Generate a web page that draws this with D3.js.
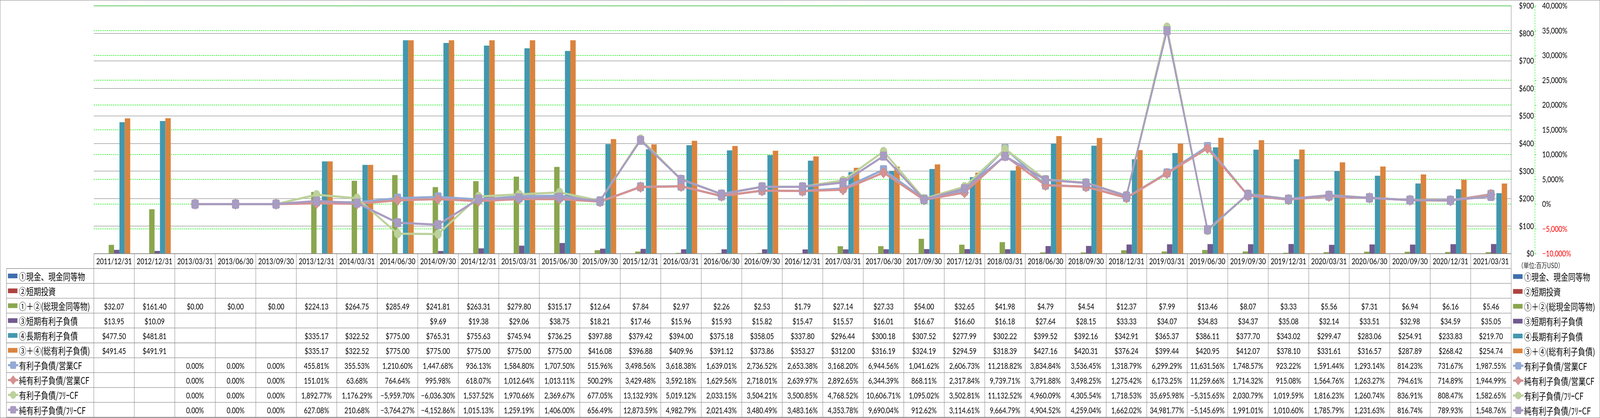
<!DOCTYPE html>
<html><head><meta charset="utf-8">
<script src="https://cdn.jsdelivr.net/npm/d3@7/dist/d3.min.js"></script>
<style>
html,body{margin:0;padding:0;background:#fff;overflow:hidden;width:100%;height:100%;}
svg{display:block;position:fixed;left:0;top:0;width:100vw;height:100vh;}
</style></head>
<body>
<svg id="chart" viewBox="0 0 5227 1071" preserveAspectRatio="none"></svg>
<script>
const categories = ["2011/12/31","2012/12/31","2013/03/31","2013/06/30","2013/09/30","2013/12/31","2014/03/31","2014/06/30","2014/09/30","2014/12/31","2015/03/31","2015/06/30","2015/09/30","2015/12/31","2016/03/31","2016/06/30","2016/09/30","2016/12/31","2017/03/31","2017/06/30","2017/09/30","2017/12/31","2018/03/31","2018/06/30","2018/09/30","2018/12/31","2019/03/31","2019/06/30","2019/09/30","2019/12/31","2020/03/31","2020/06/30","2020/09/30","2020/12/31","2021/03/31"];
const N = null;
const cashEq = categories.map(() => null);
const shortInvest = categories.map(() => null);
const totalCash = [32.07,161.40,0.00,0.00,0.00,224.13,264.75,285.49,241.81,263.31,279.80,315.17,12.64,7.84,2.97,2.26,2.53,1.79,27.14,27.33,54.00,32.65,41.98,4.79,4.54,12.37,7.99,13.46,8.07,3.33,5.56,7.31,6.94,6.16,5.46];
const shortDebt = [13.95,10.09,N,N,N,N,N,N,9.69,19.38,29.06,38.75,18.21,17.46,15.96,15.93,15.82,15.47,15.57,16.01,16.67,16.60,16.18,27.64,28.15,33.33,34.07,34.83,34.37,35.08,32.14,33.51,32.98,34.59,35.05];
const longDebt = [477.50,481.81,N,N,N,335.17,322.52,775.00,765.31,755.63,745.94,736.25,397.88,379.42,394.00,375.18,358.05,337.80,296.44,300.18,307.52,277.99,302.22,399.52,392.16,342.91,365.37,386.11,377.70,343.02,299.47,283.06,254.91,233.83,219.70];
const totalDebt = [491.45,491.91,N,N,N,335.17,322.52,775.00,775.00,775.00,775.00,775.00,416.08,396.88,409.96,391.12,373.86,353.27,312.00,316.19,324.19,294.59,318.39,427.16,420.31,376.24,399.44,420.95,412.07,378.10,331.61,316.57,287.89,268.42,254.74];
const debtOpCF = [N,N,0,0,0,455.81,355.53,1210.60,1447.68,936.13,1584.80,1707.50,515.96,3498.56,3618.38,1639.01,2736.52,2653.38,3168.20,6944.56,1041.62,2606.73,11218.82,3834.84,3536.45,1318.79,6299.29,11631.56,1748.57,923.22,1591.44,1293.14,814.23,731.67,1987.55];
const netDebtOpCF = [N,N,0,0,0,151.01,63.68,764.64,995.98,618.07,1012.64,1013.11,500.29,3429.48,3592.18,1629.56,2718.01,2639.97,2892.65,6344.39,868.11,2317.84,9739.71,3791.88,3498.25,1275.42,6173.25,11259.66,1714.32,915.08,1564.76,1263.27,794.61,714.89,1944.99];
const debtFCF = [N,N,0,0,0,1892.77,1176.29,-5959.70,-6036.30,1537.52,1970.66,2369.67,677.05,13132.93,5019.12,2033.15,3504.21,3500.85,4768.52,10606.71,1095.02,3502.81,11132.52,4960.09,4305.54,1718.53,35695.98,-5315.65,2030.79,1019.59,1816.23,1260.74,836.91,808.47,1582.65];
const netDebtFCF = [N,N,0,0,0,627.08,210.68,-3764.27,-4152.86,1015.13,1259.19,1406.00,656.49,12873.59,4982.79,2021.43,3480.49,3483.16,4353.78,9690.04,912.62,3114.61,9664.79,4904.52,4259.04,1662.02,34981.77,-5145.69,1991.01,1010.60,1785.79,1231.63,816.74,789.93,1548.76];
const usdTicks = [0,100,200,300,400,500,600,700,800,900];
const pctTicks = [-10000,-5000,0,5000,10000,15000,20000,25000,30000,35000,40000];
const unitLabel = "（単位:百万USD）";

const barSeries = [
  {name:"①現金、現金同等物", values:cashEq, color:"#3E6EAE"},
  {name:"②短期投資", values:shortInvest, color:"#AC4340"},
  {name:"①＋②(総現金同等物)", values:totalCash, color:"#8AA64E"},
  {name:"③短期有利子負債", values:shortDebt, color:"#72598F"},
  {name:"④長期有利子負債", values:longDebt, color:"#4298AF"},
  {name:"③＋④(総有利子負債)", values:totalDebt, color:"#DA843E"}
];
const lineSeries = [
  {name:"有利子負債/営業CF", values:debtOpCF, color:"#93AAD6", marker:"square"},
  {name:"純有利子負債/営業CF", values:netDebtOpCF, color:"#D59291", marker:"diamond"},
  {name:"有利子負債/ﾌﾘｰCF", values:debtFCF, color:"#BDD19B", marker:"circle"},
  {name:"純有利子負債/ﾌﾘｰCF", values:netDebtFCF, color:"#A99CC2", marker:"square"}
];

const W = 5227, H = 1071;
const plotL = 306.5, plotR = 4937, plotT = 15, plotB = 650;
const tableTop = 688, rowH = 38.1, labelL = 21;
const gridColor = "#8C8C8C";
const numFont = "Lato, 'Open Sans', sans-serif";
const cjkFont = "'Noto Sans CJK JP', 'Noto Sans', sans-serif";

const svg = d3.select("#chart");
svg.append("rect").attr("x",0.5).attr("y",0.5).attr("width",W-1).attr("height",H-1)
  .attr("fill","#fff").attr("stroke",gridColor).attr("stroke-width",1.2);

const x = d3.scaleBand().domain(categories).range([plotL, plotR]).padding(0);
const xs = d3.scaleBand().domain(d3.range(barSeries.length)).range([0, x.bandwidth()]).paddingInner(0).paddingOuter(0.76);
const yL = d3.scaleLinear().domain([0,900]).range([plotB, plotT]);
const yR = d3.scaleLinear().domain([-10000,40000]).range([plotB, plotT]);

// gridlines
const grid = svg.append("g");
grid.selectAll("line.g1").data(usdTicks).join("line")
  .attr("x1",plotL).attr("x2",plotR).attr("y1",d=>yL(d)).attr("y2",d=>yL(d))
  .attr("stroke",gridColor).attr("stroke-width",1.3);
grid.selectAll("line.g2").data(pctTicks.filter(d=>d>-10000)).join("line")
  .attr("x1",plotL).attr("x2",plotR).attr("y1",d=>yR(d)).attr("y2",d=>yR(d))
  .attr("stroke","#00F000").attr("stroke-width",1.3).attr("stroke-dasharray","4,3");
grid.append("line").attr("x1",plotR).attr("x2",plotR).attr("y1",plotT).attr("y2",plotB)
  .attr("stroke",gridColor).attr("stroke-width",1.3);

// bars
const bars = svg.append("g");
barSeries.forEach((s,si)=>{
  bars.append("g").selectAll("rect").data(s.values.map((v,i)=>({v,i})).filter(d=>d.v!=null && d.v>0)).join("rect")
    .attr("x",d=>x(categories[d.i])+xs(si))
    .attr("width",xs.bandwidth())
    .attr("y",d=>yL(d.v))
    .attr("height",d=>yL(0)-yL(d.v))
    .attr("fill",s.color);
});

// lines
function drawMarker(g, type, cx, cy, color, scale=1){
  if(type==="square"){
    const s=22*scale;
    g.append("rect").attr("x",cx-s/2).attr("y",cy-s/2).attr("width",s).attr("height",s).attr("rx",3*scale)
      .attr("fill",color).attr("stroke",d3.color(color).darker(0.15)).attr("stroke-width",1);
  } else if(type==="diamond"){
    const r=14*scale;
    g.append("path").attr("d",`M${cx},${cy-r}L${cx+r},${cy}L${cx},${cy+r}L${cx-r},${cy}Z`)
      .attr("fill",color).attr("stroke",d3.color(color).darker(0.15)).attr("stroke-width",1).attr("stroke-linejoin","round");
  } else {
    g.append("circle").attr("cx",cx).attr("cy",cy).attr("r",11.5*scale)
      .attr("fill",color).attr("stroke",d3.color(color).darker(0.15)).attr("stroke-width",1);
  }
}
const cx = c => x(c) + x.bandwidth()/2;
const linesG = svg.append("g");
lineSeries.forEach(s=>{
  const g = linesG.append("g");
  const line = d3.line().defined(d=>d.v!=null).x(d=>cx(categories[d.i])).y(d=>yR(d.v));
  g.append("path").datum(s.values.map((v,i)=>({v,i})))
    .attr("d",line).attr("fill","none").attr("stroke",s.color).attr("stroke-width",5.5)
    .attr("stroke-linejoin","round").attr("stroke-linecap","round");
  s.values.forEach((v,i)=>{ if(v!=null) drawMarker(g, s.marker, cx(categories[i]), yR(v), s.color); });
});

// axes on right
const axL = svg.append("g").attr("transform",`translate(5014,0)`)
  .call(d3.axisLeft(yL).tickValues(usdTicks).tickSize(0).tickPadding(3).tickFormat(d=>"$"+d));
axL.select(".domain").remove();
axL.selectAll("text").attr("font-family",numFont).attr("font-size",21).attr("fill","#000");

const axR = svg.append("g").attr("transform",`translate(5014,0)`)
  .call(d3.axisRight(yR).tickValues(pctTicks).tickSize(8).tickSizeOuter(0).tickPadding(16).tickFormat(d=>d3.format(",")(d)+"%"));
axR.select(".domain").attr("stroke","#00F000").attr("stroke-width",1.3).attr("stroke-dasharray","4,3");
axR.selectAll(".tick line").attr("stroke","#00F000").attr("stroke-width",1.3).attr("stroke-dasharray","4,3");
axR.selectAll("text").attr("font-family",numFont).attr("font-size",21).attr("fill",d=>d<0?"#FF0000":"#000");

svg.append("text").attr("x",4959).attr("y",679).attr("dominant-baseline","central")
  .attr("font-family",cjkFont).attr("font-size",18).attr("fill","#222").text(unitLabel);

// category axis row
const axB = svg.append("g").attr("transform",`translate(0,${plotB})`)
  .call(d3.axisBottom(x).tickSize(0).tickPadding(0));
axB.select(".domain").remove();
axB.selectAll("text").attr("font-family",numFont).attr("font-size",21).attr("fill","#000")
  .attr("dy",null).attr("y",19).attr("dominant-baseline","central");

// data table
const rows = [
  ...barSeries.map(s=>({name:s.name, values:s.values, color:s.color, kind:"bar", fmt:v=>"$"+d3.format(",.2f")(v)})),
  ...lineSeries.map(s=>({name:s.name, values:s.values, color:s.color, kind:"line", marker:s.marker, fmt:v=>d3.format(",.2f")(v)+"%"}))
];
const tableBottom = tableTop + rowH*rows.length;
const tg = svg.append("g");
tg.append("line").attr("x1",plotL).attr("x2",plotR).attr("y1",plotB).attr("y2",plotB).attr("stroke",gridColor).attr("stroke-width",1.3);
d3.range(rows.length+1).forEach(k=>{
  tg.append("line").attr("x1",labelL).attr("x2",plotR).attr("y1",tableTop+k*rowH).attr("y2",tableTop+k*rowH)
    .attr("stroke",gridColor).attr("stroke-width",1.3);
});
tg.append("line").attr("x1",labelL).attr("x2",labelL).attr("y1",tableTop).attr("y2",tableBottom).attr("stroke",gridColor).attr("stroke-width",1.3);
categories.forEach(c=>{
  tg.append("line").attr("x1",x(c)).attr("x2",x(c)).attr("y1",plotB).attr("y2",tableBottom).attr("stroke",gridColor).attr("stroke-width",1.3);
});
tg.append("line").attr("x1",plotR).attr("x2",plotR).attr("y1",plotB).attr("y2",tableBottom).attr("stroke",gridColor).attr("stroke-width",1.3);

function legendKey(g, r, x0, yc){
  if(r.kind==="bar"){
    g.append("rect").attr("x",x0).attr("y",yc-6).attr("width",31).attr("height",12).attr("fill",r.color);
  } else {
    g.append("line").attr("x1",x0).attr("x2",x0+34).attr("y1",yc).attr("y2",yc).attr("stroke",r.color).attr("stroke-width",5.5);
    drawMarker(g, r.marker, x0+17, yc, r.color, 0.82);
  }
}

rows.forEach((r,ri)=>{
  const yc = tableTop + ri*rowH + rowH/2;
  legendKey(tg, r, 26, yc);
  tg.append("text").attr("x",62).attr("y",yc).attr("dominant-baseline","central")
    .attr("font-family",cjkFont).attr("font-size",24).attr("fill","#000").text(r.name);
  r.values.forEach((v,i)=>{
    if(v==null) return;
    tg.append("text").attr("x",cx(categories[i])).attr("y",yc+1).attr("text-anchor","middle").attr("dominant-baseline","central")
      .attr("font-family",numFont).attr("font-size",21).attr("fill","#000").text(r.fmt(v));
  });
  const ly = yc + 1.5;
  legendKey(tg, r, 4943, ly);
  tg.append("text").attr("x",4979).attr("y",ly).attr("dominant-baseline","central")
    .attr("font-family",cjkFont).attr("font-size",24).attr("fill","#000").text(r.name);
});
</script>
</body></html>
